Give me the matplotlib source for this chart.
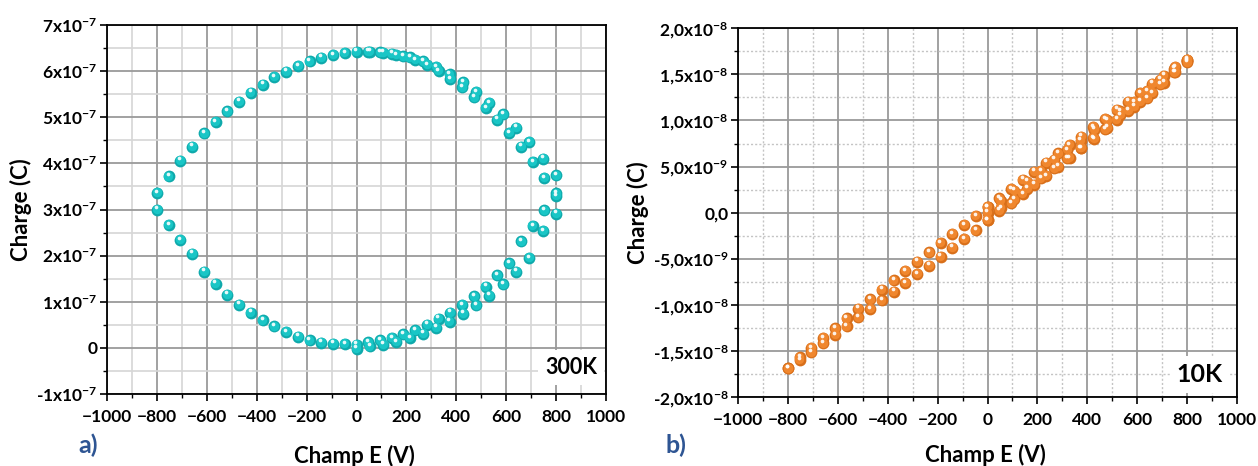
import numpy as np
import matplotlib
matplotlib.use("Agg")
import matplotlib.pyplot as plt
from matplotlib.transforms import ScaledTranslation
from matplotlib.ticker import MultipleLocator

plt.rcParams['font.family'] = ['Lato', 'DejaVu Sans']
plt.rcParams['font.weight'] = 'bold'
plt.rcParams['mathtext.fontset'] = 'custom'
plt.rcParams['mathtext.rm'] = 'Lato:bold'
plt.rcParams['mathtext.it'] = 'Lato:bold'
plt.rcParams['mathtext.bf'] = 'Lato:bold'
plt.rcParams['mathtext.default'] = 'rm'

# ---------------- data: 300 K (charge in units of 1e-7 C) ----------------
stepA = 800 / 17
stepB = 800 / 15
eA = [round(-800 + k * stepA) for k in range(35)]          # -800 .. 800
eB = [round(k * stepB) for k in range(1, 16)]              # 53 .. 800
eB0 = [0] + eB

q300_A_up = [3.36, 3.72, 4.06, 4.36, 4.65, 4.90, 5.13, 5.34, 5.53, 5.71, 5.87, 5.99,
             6.11, 6.21, 6.29, 6.35, 6.39, 6.42, 6.42, 6.41, 6.38, 6.32, 6.24, 6.13,
             6.00, 5.83, 5.65, 5.43, 5.20, 4.95, 4.66, 4.36, 4.03, 3.68, 3.29]
q300_A_lo = [3.00, 2.66, 2.34, 2.04, 1.65, 1.39, 1.15, 0.94, 0.76, 0.60, 0.47, 0.34,
             0.24, 0.16, 0.11, 0.09, 0.08, 0.07, 0.12, 0.16, 0.21, 0.29, 0.38, 0.50,
             0.63, 0.76, 0.93, 1.12, 1.33, 1.57, 1.83, 2.31, 2.64, 2.98, 3.35]
q300_B_up = [6.42, 6.40, 6.35, 6.30, 6.21, 6.09, 5.93, 5.76, 5.55, 5.31, 5.06, 4.77,
             4.46, 4.10, 3.74]
q300_B_lo = [-0.02, 0.03, 0.07, 0.13, 0.21, 0.31, 0.44, 0.57, 0.74, 0.92, 1.13, 1.38,
             1.65, 1.95, 2.53, 2.91]

# ---------------- data: 10 K (charge in units of 1e-9 C) ----------------
eA_neg = eA[:18]             # -800 .. 0
eA_pos = eA[17:]             # 0 .. 800
q10_neg_up = [-16.87, -15.67, -14.66, -13.58, -12.53, -11.44, -10.40, -9.38, -8.34,
              -7.32, -6.31, -5.30, -4.29, -3.28, -2.30, -1.32, -0.35, 0.60]
q10_neg_lo = [-16.87, -15.97, -15.13, -14.16, -13.25, -12.31, -11.34, -10.43, -9.49,
              -8.55, -7.61, -6.64, -5.73, -4.76, -3.78, -2.84, -1.90, -0.78]
q10_pos_up = [0.60, 1.57, 2.55, 3.56, 4.46, 5.43, 6.45, 7.35, 8.25, 9.27, 10.17, 11.15,
              12.05, 12.96, 13.97, 14.84, 15.78, 16.55]
q10_pos_lo = [-0.78, 0.23, 1.03, 2.04, 3.02, 3.99, 5.00, 5.91, 7.00, 8.08, 9.05, 10.07,
              11.07, 12.05, 12.96, 14.11, 15.24, 16.30]
q10_B_up = [1.30, 2.40, 3.37, 4.53, 5.73, 6.81, 7.80, 9.00, 10.00, 11.00, 12.00, 13.20,
            14.40, 15.60, 16.60]
q10_B_lo = [0.01, 0.50, 1.46, 2.60, 3.74, 4.82, 5.90, 7.00, 8.00, 9.20, 10.60, 11.50,
            12.40, 13.90, 15.20, 16.40]

xticks = [-1000, -800, -600, -400, -200, 0, 200, 400, 600, 800, 1000]
yt300 = [-1, 0, 1, 2, 3, 4, 5, 6, 7]
yl300 = ['-1x10$^{-7}$', '0', '1x10$^{-7}$', '2x10$^{-7}$', '3x10$^{-7}$',
         '4x10$^{-7}$', '5x10$^{-7}$', '6x10$^{-7}$', '7x10$^{-7}$']
yt10 = [-20, -15, -10, -5, 0, 5, 10, 15, 20]
yl10 = ['-2,0x10$^{-8}$', '-1,5x10$^{-8}$', '-1,0x10$^{-8}$', '-5,0x10$^{-9}$', '0,0',
        '5,0x10$^{-9}$', '1,0x10$^{-8}$', '1,5x10$^{-8}$', '2,0x10$^{-8}$']

CYAN = '#19C6C6'
CYAN_D = '#0FA9AB'
ORANGE = '#F0872E'
ORANGE_D = '#D86F1A'

fig = plt.figure(figsize=(12.58, 4.66), dpi=100)
axL = fig.add_axes([107 / 1258, 1 - 394 / 466, 499 / 1258, 369 / 466])
axR = fig.add_axes([738 / 1258, 1 - 397.2 / 466, 499 / 1258, 369 / 466])


def spheres(ax, x, y, col, dark):
    x = np.asarray(x, float)
    y = np.asarray(y, float)
    ax.scatter(x, y, s=72, color=dark, linewidths=0, zorder=3, clip_on=False)
    t1 = ax.transData + ScaledTranslation(-0.2 / 72, 0.5 / 72, fig.dpi_scale_trans)
    ax.scatter(x, y, s=46, color=col, linewidths=0, zorder=4, transform=t1, clip_on=False)
    t2 = ax.transData + ScaledTranslation(-0.8 / 72, 1.7 / 72, fig.dpi_scale_trans)
    ax.scatter(x, y, s=7, color='white', alpha=0.9, linewidths=0, zorder=5,
               transform=t2, clip_on=False)


def style(ax, minor_ls):
    ax.set_xlim(-1000, 1000)
    ax.set_xticks(xticks)
    ax.xaxis.set_minor_locator(MultipleLocator(100))
    ax.tick_params(which='major', direction='out', length=5, width=1.2,
                   labelsize=12.5, pad=6)
    ax.tick_params(axis='y', which='major', pad=2)
    ax.tick_params(which='minor', direction='out', length=3, width=1.0)
    ax.grid(which='major', color='#9A9A9A', lw=1.3, zorder=0)
    if minor_ls == '-':
        ax.grid(which='minor', color='#D6D6D6', lw=1.2, ls='-', zorder=0)
    else:
        ax.grid(which='minor', color='#C4C4C4', lw=1.0, ls=(0, (1.5, 1.5)), zorder=0)
    ax.set_axisbelow(True)
    for s in ax.spines.values():
        s.set_linewidth(1.3)
        s.set_color('black')
    for lab in ax.get_xticklabels() + ax.get_yticklabels():
        lab.set_fontweight('bold')
    ax.set_xlabel('Champ E (V)', fontsize=16, fontweight='bold')
    ax.set_ylabel('Charge (C)', fontsize=16, fontweight='bold')


# ---- left panel (300 K)
style(axL, '-')
axL.set_ylim(-1, 7)
axL.set_yticks(yt300)
axL.set_yticklabels(yl300, fontweight='bold')
axL.yaxis.set_minor_locator(MultipleLocator(0.5))
axL.xaxis.set_label_coords(0.495, -0.137)
axL.yaxis.set_label_coords(-0.15, 0.5)
spheres(axL, eA, q300_A_up, CYAN, CYAN_D)
spheres(axL, eA, q300_A_lo, CYAN, CYAN_D)
spheres(axL, eB, q300_B_up, CYAN, CYAN_D)
spheres(axL, eB0, q300_B_lo, CYAN, CYAN_D)
axL.text(0.93, 0.072, '300K', transform=axL.transAxes, ha='center', va='center',
         fontsize=15.5, fontweight='bold', zorder=6,
         bbox=dict(facecolor='white', edgecolor='none', pad=5))
fig.text(88 / 1258, 1 - 445 / 466, 'a)', color='#2E5593', fontsize=18,
         fontweight='bold', ha='center', va='center')

# ---- right panel (10 K)
style(axR, ':')
axR.set_ylim(-20, 20)
axR.set_yticks(yt10)
axR.set_yticklabels(yl10, fontweight='bold')
axR.yaxis.set_minor_locator(MultipleLocator(2.5))
axR.xaxis.set_label_coords(0.495, -0.128)
axR.yaxis.set_label_coords(-0.178, 0.5)
spheres(axR, eA_neg, q10_neg_up, ORANGE, ORANGE_D)
spheres(axR, eA_neg, q10_neg_lo, ORANGE, ORANGE_D)
spheres(axR, eA_pos, q10_pos_up, ORANGE, ORANGE_D)
spheres(axR, eA_pos, q10_pos_lo, ORANGE, ORANGE_D)
spheres(axR, eB, q10_B_up, ORANGE, ORANGE_D)
spheres(axR, eB0, q10_B_lo, ORANGE, ORANGE_D)
axR.text(0.925, 0.062, '10K', transform=axR.transAxes, ha='center', va='center',
         fontsize=18, fontweight='bold', zorder=6,
         bbox=dict(facecolor='white', edgecolor='none', pad=5))
fig.text(676 / 1258, 1 - 445 / 466, 'b)', color='#2E5593', fontsize=18,
         fontweight='bold', ha='center', va='center')

fig.savefig('out.png', dpi=100)
